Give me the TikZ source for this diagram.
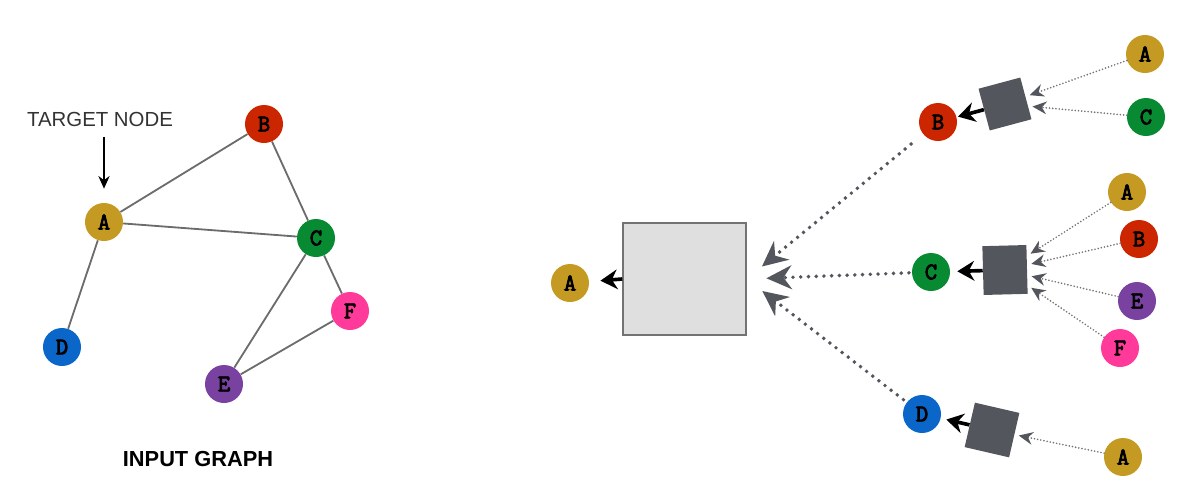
\documentclass[tikz,border=0pt]{standalone}
\usepackage{fontspec}
\setmainfont{Liberation Sans}
\newfontfamily\letterfont{Latin Modern Mono}[AutoFakeBold=3.5]
\usepackage{xcolor}
\usepackage{tikz}
\usetikzlibrary{arrows.meta}
\definecolor{colA}{HTML}{C49A22}
\definecolor{colB}{HTML}{CC2600}
\definecolor{colC}{HTML}{078A32}
\definecolor{colD}{HTML}{0A66C8}
\definecolor{colE}{HTML}{7A42A0}
\definecolor{colF}{HTML}{FF3A9A}
\definecolor{sqgray}{HTML}{53565C}
\tikzset{
    vert/.style={circle, minimum size=0.95cm, inner sep=0pt, text=black,
        font=\letterfont\bfseries\fontsize{17}{17}\selectfont},
    edge/.style={draw=gray!85!black, line width=1.3pt},
    bigdots/.style={draw=sqgray, line width=2.8pt, line cap=round, dash pattern=on 0pt off 5.5pt,
        -{Stealth[length=18pt, width=17pt, fill=sqgray]}},
    smalldots/.style={draw=gray!90!black, line width=1.3pt, line cap=round, dash pattern=on 0pt off 2.3pt,
        -{Stealth[length=10pt, width=9pt, color=sqgray]}, shorten >=3pt},
    outarrow/.style={draw=black, line width=2.6pt, -{Stealth[length=12pt, width=14pt]}},
    sq/.style={fill=sqgray, inner sep=0pt}
}

\begin{document}
\begin{tikzpicture}[x=0.025cm, y=-0.025cm]
    \useasboundingbox (0,0) rectangle (1190,482);
    % input graph
    \foreach \n/\x/\y in {A/104/222, B/264/124, C/316/238, D/62/347, E/224/384, F/350/311}
        \node[vert, fill=col\n] (g\n) at (\x,\y) {\n};
    \foreach \u/\v in {A/B, A/C, A/D, B/C, C/E, C/F, E/F}
        \draw[edge] (g\u) -- (g\v);
    \node[text=black!80, font=\fontsize{14.5}{14.5}\selectfont] (target) at (100,119) {TARGET NODE};
    \draw[line width=1.1pt, -{Stealth[length=9pt, width=8pt]}, shorten <=4pt, shorten >=10pt] (target.south -| gA.north) -- (gA.north);
    \node[font=\bfseries\fontsize{15.5}{15.5}\selectfont] (title) at (198,459) {INPUT GRAPH};
    % aggregation
    \node[draw=gray!90!black, fill=gray!25, line width=1pt, minimum width=3.075cm, minimum height=2.8cm] (agg) at (684.5,279) {};
    \node[vert, fill=colA] (tA) at (570,283) {A};
    \draw[outarrow, shorten >=8pt] (agg.west) -- (tA);
    \foreach \n/\x/\y in {B/938/122, C/931/272, D/922/414}
        \node[vert, fill=col\n] (h\n) at (\x,\y) {\n};
    \foreach \n/\s in {B/11pt, C/2pt, D/3pt}
        \draw[bigdots, shorten <=\s, shorten >=14pt] (h\n) -- (agg.east);
    % neighbour boxes
    \node[sq, minimum size=1.08cm, rotate=15] (sqB) at (1005,104) {};
    \node[sq, minimum width=1.1cm, minimum height=1.22cm, rotate=1.5] (sqC) at (1005,270) {};
    \node[sq, minimum size=1.14cm, rotate=-13] (sqD) at (992,430) {};
    \draw[outarrow, shorten >=1pt] (sqB) -- (hB);
    \draw[outarrow, shorten >=5pt] (sqC) -- (hC);
    \draw[outarrow, shorten >=4pt] (sqD) -- (hD);
    \foreach \n/\c/\x/\y in {1/A/1145/54, 2/C/1146/117}
        \node[vert, fill=col\c] (lB\n) at (\x,\y) {\c};
    \foreach \n/\c/\x/\y in {1/A/1127/192, 2/B/1139/239, 3/E/1137/301, 4/F/1120/348}
        \node[vert, fill=col\c] (lC\n) at (\x,\y) {\c};
    \node[vert, fill=colA] (lD1) at (1123,457) {A};
    \foreach \n in {1,2}
        \draw[smalldots] (lB\n) -- (sqB);
    \foreach \n in {1,...,4}
        \draw[smalldots] (lC\n) -- (sqC);
    \draw[smalldots] (lD1) -- (sqD);
\end{tikzpicture}
\end{document}
